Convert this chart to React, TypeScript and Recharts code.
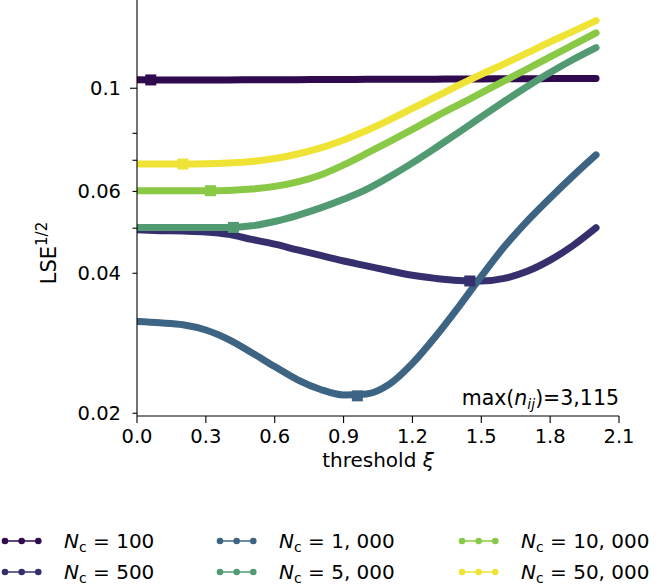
import React from 'react';
import { ComposedChart, Line, Scatter, XAxis, YAxis } from 'recharts';

// threshold values (step 0.1)
const xi = [0, 0.1, 0.2, 0.3, 0.4, 0.5, 0.6, 0.7, 0.8, 0.9, 1.0, 1.1, 1.2, 1.3, 1.4, 1.5, 1.6, 1.7, 1.8, 1.9, 2.0];

// LSE^(1/2) per number of cells N_c
const n100 = [0.1043, 0.1042, 0.1042, 0.1042, 0.1042, 0.1043, 0.1043, 0.1043, 0.1044, 0.1044, 0.1045, 0.1045, 0.1046, 0.1046, 0.1047, 0.1047, 0.1048, 0.1048, 0.1049, 0.1049, 0.105];
const n500 = [0.0496, 0.0494, 0.0493, 0.0491, 0.0485, 0.0473, 0.0462, 0.0449, 0.0437, 0.0425, 0.0415, 0.0405, 0.0396, 0.039, 0.0386, 0.0385, 0.039, 0.0404, 0.0427, 0.0459, 0.0501];
const n1000 = [0.0315, 0.0313, 0.031, 0.0302, 0.0288, 0.027, 0.0252, 0.0236, 0.0225, 0.0219, 0.022, 0.0231, 0.0256, 0.0292, 0.0338, 0.0394, 0.0456, 0.0518, 0.0581, 0.0648, 0.0719];
const n5000 = [0.0502, 0.0502, 0.0502, 0.0502, 0.0502, 0.0506, 0.0517, 0.0533, 0.0553, 0.0577, 0.0606, 0.0645, 0.0691, 0.0744, 0.0803, 0.0868, 0.0937, 0.1009, 0.1081, 0.1153, 0.1223];
const n10000 = [0.0602, 0.0602, 0.0602, 0.0602, 0.0603, 0.0607, 0.0615, 0.0629, 0.0651, 0.0684, 0.0724, 0.0768, 0.0816, 0.0868, 0.0921, 0.0977, 0.1037, 0.11, 0.1168, 0.1239, 0.1315];
const n50000 = [0.0687, 0.0687, 0.0687, 0.0688, 0.0691, 0.0696, 0.0706, 0.0722, 0.0744, 0.0774, 0.0811, 0.0855, 0.0905, 0.0958, 0.1014, 0.1071, 0.1128, 0.1191, 0.1258, 0.1325, 0.1398];

// optimal threshold (square markers)
const minXi = [0.06, 1.45, 0.96, 0.42, 0.32, 0.2];
const minVal = [0.1042, 0.0385, 0.0218, 0.0502, 0.0602, 0.0687];

const labels = ['100', '500', '1, 000', '5, 000', '10, 000', '50, 000'];
const colors = ['#300a4e', '#352f6e', '#3d6483', '#529b72', '#8ac946', '#efe436'];

const xTicks = [0, 0.3, 0.6, 0.9, 1.2, 1.5, 1.8, 2.1];
const yTicks = [0.02, 0.04, 0.05, 0.06, 0.07, 0.08, 0.09, 0.1];
const yLabeled = [0.02, 0.04, 0.06, 0.1];

const series = [n100, n500, n1000, n5000, n10000, n50000];
const data = xi.map((x, i) => {
  const row: Record<string, number> = { xi: x };
  series.forEach((s, k) => (row[`s${k}`] = s[i]));
  return row;
});
const squares = minXi.map((x, k) => [{ xi: x, v: minVal[k] }]);

const FONT = 'DejaVu Sans';

function XTick(props: any) {
  const { x, y, payload } = props;
  return (
    <text x={x} y={y} dy={17.5} textAnchor="middle" fontSize={19.5} fontFamily={FONT} fill="#000">
      {payload.value.toFixed(1)}
    </text>
  );
}

function YTick(props: any) {
  const { x, y, payload } = props;
  const v = payload.value;
  const major = Math.abs(v - 0.1) < 1e-9;
  const labeled = yLabeled.some((t) => Math.abs(t - v) < 1e-9);
  const len = major ? 7 : 4.5;
  return (
    <g>
      <line x1={x - len} x2={x} y1={y} y2={y} stroke="#000" strokeWidth={1.1} />
      {labeled && (
        <text x={x - 16} y={y} dy={7} textAnchor="end" fontSize={19.5} fontFamily={FONT} fill="#000">
          {String(v)}
        </text>
      )}
    </g>
  );
}

// legend: 3 columns, filled column-wise
const legendRows = [541, 572];
const legendDotX = [5, 220, 462];
const legendTextX = [64, 279, 521];

export default function App() {
  return (
    <div style={{ position: 'absolute', left: 0, top: 0, width: 664, height: 588, background: '#fff' }}>
      <ComposedChart width={664} height={588} data={data} margin={{ top: 0, right: 45, bottom: 122, left: 0 }}>
        <XAxis
          dataKey="xi"
          type="number"
          domain={[0, 2.1]}
          ticks={xTicks}
          allowDataOverflow
          tickSize={7}
          height={50}
          stroke="#000"
          axisLine={{ stroke: '#000', strokeWidth: 1.1 }}
          tickLine={{ stroke: '#000', strokeWidth: 1.1 }}
          tick={(p: any) => <XTick {...p} />}
        />
        <YAxis
          type="number"
          scale="log"
          domain={[0.01973, 0.1548]}
          allowDataOverflow
          ticks={yTicks}
          width={137}
          tickSize={0}
          tickMargin={0}
          tickLine={false}
          axisLine={{ stroke: '#000', strokeWidth: 1.1 }}
          tick={(p: any) => <YTick {...p} />}
        />
        {series.map((_, k) => (
          <Line
            key={`l${k}`}
            dataKey={`s${k}`}
            type="monotone"
            stroke={colors[k]}
            strokeWidth={7}
            strokeLinecap="round"
            strokeLinejoin="round"
            dot={false}
            activeDot={false}
            isAnimationActive={false}
          />
        ))}
        {squares.map((sq, k) => (
          <Scatter
            key={`q${k}`}
            data={sq}
            dataKey="v"
            isAnimationActive={false}
            shape={(p: any) => <rect x={p.cx - 5.5} y={p.cy - 5.5} width={11} height={11} fill={colors[k]} />}
          />
        ))}
      </ComposedChart>

      <svg width={664} height={588} style={{ position: 'absolute', left: 0, top: 0, pointerEvents: 'none' }}>
        <text transform="translate(56,253) rotate(-90)" textAnchor="middle" fontSize={21} fontFamily={FONT} fill="#000">
          LSE<tspan dy={-9} fontSize={15}>1/2</tspan>
        </text>
        <text x={378} y={467} textAnchor="middle" fontSize={20} fontFamily={FONT} fill="#000">
          threshold <tspan fontStyle="italic">ξ</tspan>
        </text>
        <text x={619} y={405} textAnchor="end" fontSize={20.5} fontFamily={FONT} fill="#000">
          max(<tspan fontStyle="italic">n</tspan>
          <tspan fontStyle="italic" fontSize={14} dy={4}>ij</tspan>
          <tspan dy={-4}>)=3,115</tspan>
        </text>
        {labels.map((lab, k) => {
          const col = Math.floor(k / 2);
          const y = legendRows[k % 2];
          const x0 = legendDotX[col];
          return (
            <g key={lab}>
              <line x1={x0} x2={x0 + 33.3} y1={y} y2={y} stroke={colors[k]} strokeWidth={1.5} />
              {[0, 1, 2].map((j) => (
                <circle key={j} cx={x0 + j * 16.65} cy={y} r={3.3} fill={colors[k]} />
              ))}
              <text x={legendTextX[col]} y={y + 7} fontSize={20} fontFamily={FONT} fill="#000">
                <tspan fontStyle="italic">N</tspan>
                <tspan fontSize={14} dy={3.5}>c</tspan>
                <tspan dy={-3.5}> = {lab}</tspan>
              </text>
            </g>
          );
        })}
      </svg>
    </div>
  );
}
